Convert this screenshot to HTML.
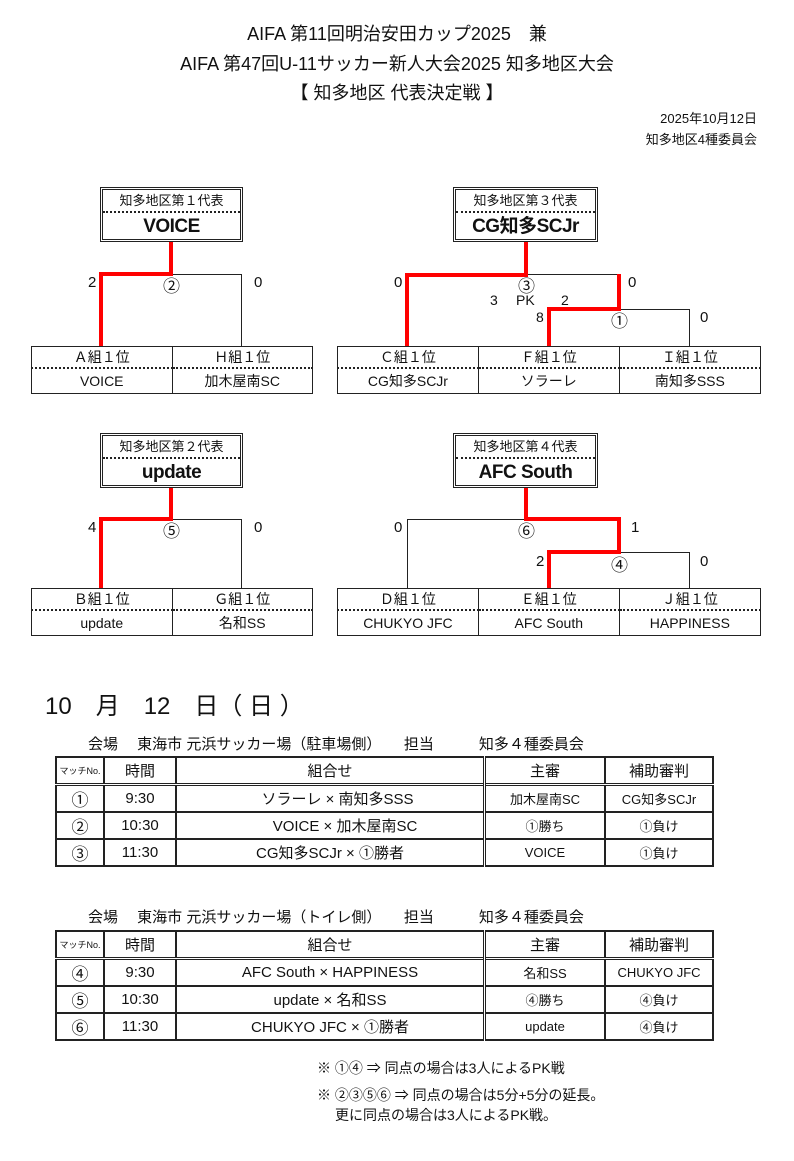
<!DOCTYPE html>
<html><head><meta charset="utf-8"><style>
body{margin:0;width:794px;height:1161px;background:#fff;position:relative;overflow:hidden;font-family:"Liberation Sans","Noto Sans CJK JP",sans-serif;color:#111}
.t{position:absolute;white-space:nowrap}
.c{position:absolute;text-align:center;white-space:nowrap}
.r{position:absolute;background:#f00}
.k{position:absolute;background:#222}
.j{font-family:"Noto Sans CJK JP",sans-serif;line-height:1}
.box{position:absolute;border:3px double #222;box-sizing:border-box;background:#fff}
.box .h{height:21px;border-bottom:2px dotted #222;text-align:center;font-size:13px;line-height:21px}
.box .n{text-align:center;font-size:19px;font-weight:bold;line-height:28px;letter-spacing:-0.5px}
table{position:absolute;border-collapse:collapse}
.tm td{border:1.5px solid #222;text-align:center;font-size:14px;padding:0;height:24px}
.tm tr.n td{border-top:2px dotted #222}
.sc td{border:2px solid #222;text-align:center;font-size:15px;padding:0;height:25px}
.sc td.j{font-size:17px}
</style></head><body>
<div class="c" style="left:0;width:794px;top:20px;font-size:18px">AIFA 第11回明治安田カップ2025　兼</div>
<div class="c" style="left:0;width:794px;top:50px;font-size:18px">AIFA 第47回U-11サッカー新人大会2025 知多地区大会</div>
<div class="c" style="left:0;width:794px;top:79px;font-size:18px">【 知多地区 代表決定戦 】</div>
<div class="t" style="right:37px;top:108px;font-size:13px">2025年10月12日</div>
<div class="t" style="right:37px;top:129px;font-size:13px">知多地区4種委員会</div>

<!-- bracket 1 -->
<div class="box" style="left:100px;top:187px;width:143px;height:55px"><div class="h">知多地区第１代表</div><div class="n">VOICE</div></div>
<div class="r" style="left:169px;top:242px;width:4px;height:34px"></div>
<div class="r" style="left:99px;top:272px;width:74px;height:4px"></div>
<div class="k" style="left:173px;top:274px;width:69px;height:1px"></div>
<div class="k" style="left:241px;top:274px;width:1px;height:72px"></div>
<div class="r" style="left:99px;top:272px;width:4px;height:75px"></div>
<div class="t" style="left:88px;top:274px;font-size:15px">2</div>
<div class="t j" style="left:163px;top:276px;font-size:17px">②</div>
<div class="t" style="left:254px;top:274px;font-size:15px">0</div>
<table class="tm" style="left:31px;top:346px;width:282px"><tr><td style="width:50%;height:20px">Ａ組１位</td><td style="height:20px">Ｈ組１位</td></tr><tr class="n"><td>VOICE</td><td>加木屋南SC</td></tr></table>

<!-- bracket 3 -->
<div class="box" style="left:453px;top:187px;width:145px;height:55px"><div class="h">知多地区第３代表</div><div class="n">CG知多SCJr</div></div>
<div class="r" style="left:524px;top:242px;width:4px;height:34px"></div>
<div class="r" style="left:405px;top:273px;width:123px;height:4px"></div>
<div class="k" style="left:528px;top:274px;width:91px;height:1px"></div>
<div class="r" style="left:617px;top:274px;width:4px;height:37px"></div>
<div class="r" style="left:547px;top:307px;width:74px;height:4px"></div>
<div class="k" style="left:621px;top:309px;width:69px;height:1px"></div>
<div class="k" style="left:689px;top:309px;width:1px;height:38px"></div>
<div class="r" style="left:547px;top:307px;width:4px;height:40px"></div>
<div class="r" style="left:405px;top:273px;width:4px;height:74px"></div>
<div class="t" style="left:394px;top:274px;font-size:15px">0</div>
<div class="t j" style="left:518px;top:276px;font-size:17px">③</div>
<div class="t" style="left:628px;top:274px;font-size:15px">0</div>
<div class="t" style="left:490px;top:292px;font-size:14px">3</div>
<div class="t" style="left:516px;top:292px;font-size:14px">PK</div>
<div class="t" style="left:561px;top:292px;font-size:14px">2</div>
<div class="t" style="left:536px;top:309px;font-size:14px">8</div>
<div class="t j" style="left:611px;top:311px;font-size:17px">①</div>
<div class="t" style="left:700px;top:309px;font-size:15px">0</div>
<table class="tm" style="left:337px;top:346px;width:424px"><tr><td style="width:33.3%;height:20px">Ｃ組１位</td><td style="width:33.3%;height:20px">Ｆ組１位</td><td style="height:20px">Ｉ組１位</td></tr><tr class="n"><td>CG知多SCJr</td><td>ソラーレ</td><td>南知多SSS</td></tr></table>

<!-- bracket 2 -->
<div class="box" style="left:100px;top:433px;width:143px;height:55px"><div class="h">知多地区第２代表</div><div class="n">update</div></div>
<div class="r" style="left:169px;top:488px;width:4px;height:33px"></div>
<div class="r" style="left:99px;top:517px;width:74px;height:4px"></div>
<div class="k" style="left:173px;top:519px;width:69px;height:1px"></div>
<div class="k" style="left:241px;top:519px;width:1px;height:69px"></div>
<div class="r" style="left:99px;top:517px;width:4px;height:72px"></div>
<div class="t" style="left:88px;top:519px;font-size:15px">4</div>
<div class="t j" style="left:163px;top:521px;font-size:17px">⑤</div>
<div class="t" style="left:254px;top:519px;font-size:15px">0</div>
<table class="tm" style="left:31px;top:588px;width:282px"><tr><td style="width:50%;height:20px">Ｂ組１位</td><td style="height:20px">Ｇ組１位</td></tr><tr class="n"><td>update</td><td>名和SS</td></tr></table>

<!-- bracket 4 -->
<div class="box" style="left:453px;top:433px;width:145px;height:55px"><div class="h">知多地区第４代表</div><div class="n">AFC South</div></div>
<div class="r" style="left:524px;top:488px;width:4px;height:33px"></div>
<div class="k" style="left:407px;top:519px;width:119px;height:1px"></div>
<div class="k" style="left:407px;top:519px;width:1px;height:69px"></div>
<div class="r" style="left:524px;top:517px;width:97px;height:4px"></div>
<div class="r" style="left:617px;top:517px;width:4px;height:37px"></div>
<div class="r" style="left:547px;top:550px;width:74px;height:4px"></div>
<div class="k" style="left:621px;top:552px;width:69px;height:1px"></div>
<div class="k" style="left:689px;top:552px;width:1px;height:36px"></div>
<div class="r" style="left:547px;top:550px;width:4px;height:39px"></div>
<div class="t" style="left:394px;top:519px;font-size:15px">0</div>
<div class="t j" style="left:518px;top:521px;font-size:17px">⑥</div>
<div class="t" style="left:631px;top:519px;font-size:15px">1</div>
<div class="t" style="left:536px;top:553px;font-size:15px">2</div>
<div class="t j" style="left:611px;top:555px;font-size:17px">④</div>
<div class="t" style="left:700px;top:553px;font-size:15px">0</div>
<table class="tm" style="left:337px;top:588px;width:424px"><tr><td style="width:33.3%;height:20px">Ｄ組１位</td><td style="width:33.3%;height:20px">Ｅ組１位</td><td style="height:20px">Ｊ組１位</td></tr><tr class="n"><td>CHUKYO JFC</td><td>AFC South</td><td>HAPPINESS</td></tr></table>

<div class="t" style="left:45px;top:686px;font-size:24px">10　月　12　日（ 日 ）</div>

<div class="t" style="left:88px;top:733px;font-size:15px">会場　 東海市 元浜サッカー場（駐車場側）　　担当　　　知多４種委員会</div>
<table class="sc" style="left:55px;top:756px;width:659px">
<tr style="border-bottom:3px double #222"><td style="width:46px;font-size:9px">マッチNo.</td><td style="width:70px">時間</td><td style="width:306px;border-right:3px double #222">組合せ</td><td style="width:118px">主審</td><td>補助審判</td></tr>
<tr><td class="j">①</td><td>9:30</td><td style="border-right:3px double #222">　ソラーレ × 南知多SSS</td><td style="font-size:13px">加木屋南SC</td><td style="font-size:13px">CG知多SCJr</td></tr>
<tr><td class="j">②</td><td>10:30</td><td style="border-right:3px double #222">　　VOICE × 加木屋南SC</td><td style="font-size:13px">①勝ち</td><td style="font-size:13px">①負け</td></tr>
<tr><td class="j">③</td><td>11:30</td><td style="border-right:3px double #222">CG知多SCJr × ①勝者　</td><td style="font-size:13px">VOICE</td><td style="font-size:13px">①負け</td></tr>
</table>

<div class="t" style="left:88px;top:906px;font-size:15px">会場　 東海市 元浜サッカー場（トイレ側）　　担当　　　知多４種委員会</div>
<table class="sc" style="left:55px;top:930px;width:659px">
<tr style="border-bottom:3px double #222"><td style="width:46px;font-size:9px">マッチNo.</td><td style="width:70px">時間</td><td style="width:306px;border-right:3px double #222">組合せ</td><td style="width:118px">主審</td><td>補助審判</td></tr>
<tr><td class="j">④</td><td>9:30</td><td style="border-right:3px double #222">AFC South × HAPPINESS</td><td style="font-size:13px">名和SS</td><td style="font-size:13px">CHUKYO JFC</td></tr>
<tr><td class="j">⑤</td><td>10:30</td><td style="border-right:3px double #222">update × 名和SS</td><td style="font-size:13px">④勝ち</td><td style="font-size:13px">④負け</td></tr>
<tr><td class="j">⑥</td><td>11:30</td><td style="border-right:3px double #222">CHUKYO JFC × ①勝者</td><td style="font-size:13px">update</td><td style="font-size:13px">④負け</td></tr>
</table>

<div class="t" style="left:317px;top:1058px;font-size:14px">※ ①④ ⇒ 同点の場合は3人によるPK戦</div>
<div class="t" style="left:317px;top:1085px;font-size:14px">※ ②③⑤⑥ ⇒ 同点の場合は5分+5分の延長。</div>
<div class="t" style="left:335px;top:1105px;font-size:14px">更に同点の場合は3人によるPK戦。</div>
</body></html>
